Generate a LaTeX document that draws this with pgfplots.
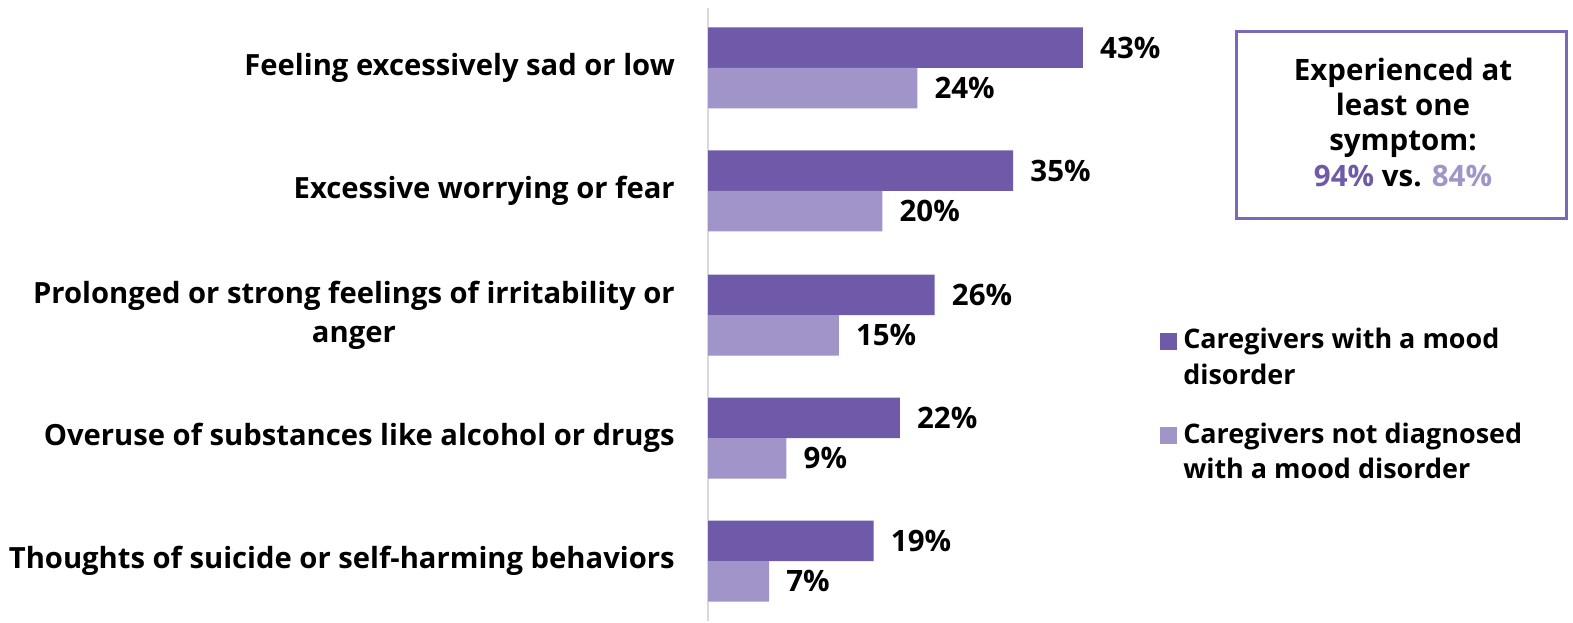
\documentclass[border=0pt]{standalone}
\usepackage{fontspec}
\setmainfont{Open Sans}
\usepackage{pgfplots}
\pgfplotsset{compat=1.18}
\definecolor{dark}{HTML}{6E5AA8}
\definecolor{light}{HTML}{A094C8}
\definecolor{boxc}{HTML}{7B68B8}
\newcommand{\lf}{\bfseries\fontsize{21.9}{29.2}\selectfont}
\newcommand{\vf}{\bfseries\fontsize{22.1}{29.2}\selectfont}
\newcommand{\gf}{\bfseries\fontsize{20.2}{27}\selectfont}
\begin{document}
\begin{tikzpicture}[x=0.75pt,y=0.75pt]
\path (0,0) rectangle (1573,621);
\begin{axis}[
  at={(531pt,0pt)}, anchor=south west,
  scale only axis,
  x=6.54pt, y=0.75pt,
  xmin=0, xmax=99, ymin=0, ymax=621,
  axis line style={draw=none},
  xtick=\empty,
  ytick={60,183,306,430,553},
  yticklabels={{Thoughts of suicide or self-harming behaviors},{Overuse of substances like alcohol or drugs},{Prolonged or strong feelings of irritability or\\anger},{Excessive worrying or fear},{Feeling excessively sad or low}},
  major tick length=0pt,
  yticklabel style={align=center, font=\lf, inner sep=0pt, xshift=-24.75pt},
  xbar, bar width=40.5,
  clip=false,
  /pgf/number format/assume math mode=true,
  nodes near coords={\pgfmathprintnumber{\pgfplotspointmeta}\%},
  nodes near coords style={font=\vf, anchor=west, inner sep=0pt, xshift=12.75pt, text=black},
]
\draw[black!15, line width=1.5pt] (axis cs:0,0) -- (axis cs:0,613);
\addplot[fill=dark, draw=none, bar shift=20.25] coordinates {(19,60) (22,183) (26,306) (35,430) (43,553)};
\addplot[fill=light, draw=none, bar shift=-20.25] coordinates {(7,60) (9,183) (15,306) (20,430) (24,553)};
\end{axis}
% info box
\draw[boxc, line width=2.25pt] (1236.5,402.5) rectangle (1566.5,589.5);
\node[font=\vf, anchor=base, inner sep=0pt] at (1403,540) {Experienced at};
\node[font=\vf, anchor=base, inner sep=0pt] at (1403,505) {least one};
\node[font=\vf, anchor=base, inner sep=0pt] at (1403,470) {symptom:};
\node[font=\vf, anchor=base, inner sep=0pt] at (1403,434) {\textcolor{dark}{94\%} vs. \textcolor{light}{84\%}};
% legend
\fill[dark] (1160,271) rectangle (1177,288);
\node[font=\gf, anchor=base west, inner sep=0pt] at (1183,273) {Caregivers with a mood};
\node[font=\gf, anchor=base west, inner sep=0pt] at (1183,237) {disorder};
\fill[light] (1160,177) rectangle (1177,194);
\node[font=\gf, anchor=base west, inner sep=0pt] at (1183,178) {Caregivers not diagnosed};
\node[font=\gf, anchor=base west, inner sep=0pt] at (1183,143) {with a mood disorder};
\end{tikzpicture}
\end{document}
